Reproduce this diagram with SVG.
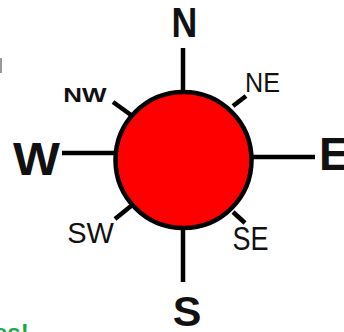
<svg xmlns="http://www.w3.org/2000/svg" width="344" height="332" viewBox="0 0 344 332">
<style>
.ln{stroke:#000;stroke-width:4.5;fill:none}
.big{font-family:"Liberation Sans",Arial,sans-serif;font-weight:bold;fill:#111}
.sm{font-family:"Liberation Sans",Arial,sans-serif;fill:#111}
</style>
<rect width="344" height="332" fill="#fff"/>
<rect x="0" y="58" width="2" height="15" fill="#999"/>
<g id="connectors">
<line class="ln" x1="183" y1="48" x2="183" y2="93"/>
<line class="ln" x1="183" y1="227" x2="183" y2="282"/>
<line class="ln" x1="252" y1="157" x2="315" y2="157"/>
<line class="ln" x1="62" y1="153" x2="115" y2="153"/>
<line class="ln" x1="113" y1="102" x2="131" y2="115"/>
<line class="ln" x1="233" y1="106" x2="246" y2="96"/>
<line class="ln" x1="115" y1="219" x2="131" y2="206"/>
<line class="ln" x1="233" y1="212" x2="245" y2="223"/>
</g>
<g id="compass">
<circle cx="183.5" cy="160" r="68" fill="#ff0000" stroke="#000" stroke-width="4.5"/>
</g>
<g id="N"><text class="big" transform="translate(184.5,37) scale(0.85,1)" font-size="42" text-anchor="middle">N</text></g>
<g id="S"><text class="big" transform="translate(187,326)" font-size="43" text-anchor="middle">S</text></g>
<g id="E"><text class="big" transform="translate(319,170)" font-size="46">E</text></g>
<g id="W"><text class="big" transform="translate(36.5,175) scale(1.08,1)" font-size="46" text-anchor="middle">W</text></g>
<g id="NW"><text class="big" transform="translate(85,102) scale(1.3,1.05)" font-size="20" text-anchor="middle">NW</text></g>
<g id="NE"><text class="sm" transform="translate(262.5,92) scale(0.9,1)" font-size="28" text-anchor="middle">NE</text></g>
<g id="SW"><text class="sm" transform="translate(90.5,243)" font-size="29" text-anchor="middle">SW</text></g>
<g id="SE"><text class="sm" transform="translate(250.5,250) scale(1,1.2)" font-size="27" text-anchor="middle">SE</text></g>
<text x="-6" y="341" font-family="Liberation Sans,Arial,sans-serif" font-weight="bold" font-size="24" fill="#1aa84a">es!</text>
</svg>
